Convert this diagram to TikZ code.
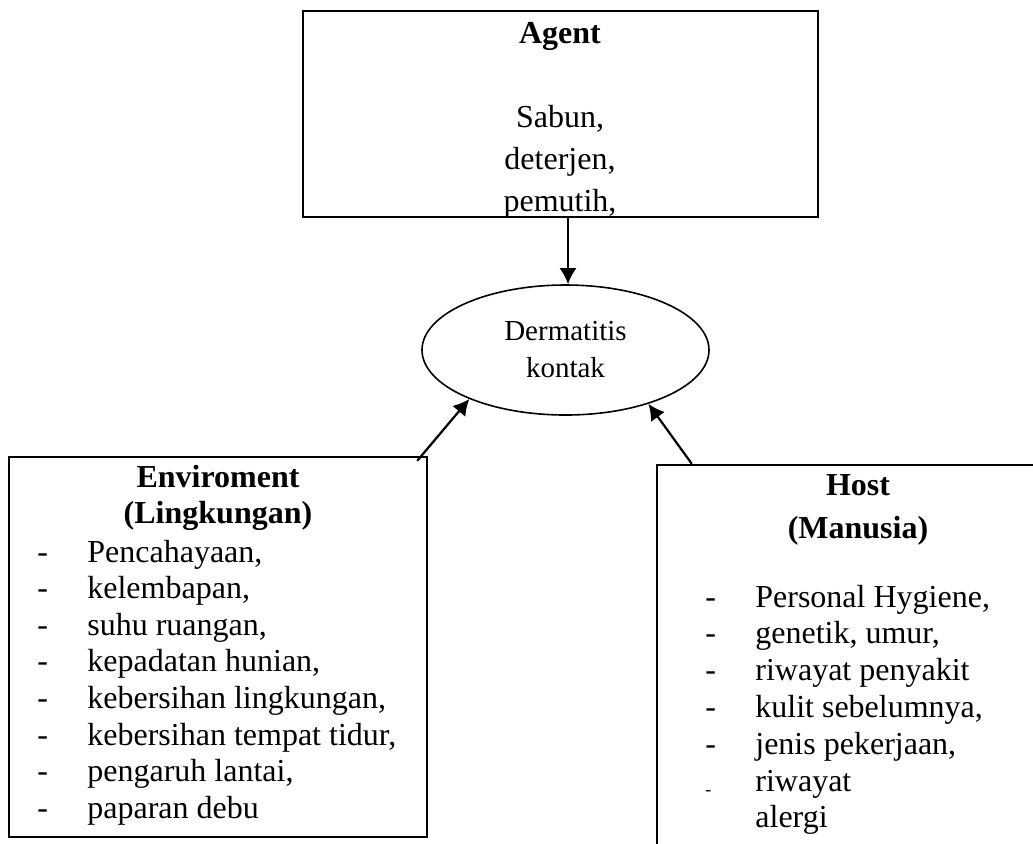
\documentclass[tikz,border=0pt]{standalone}
\usepackage{fontspec}
\setmainfont{Liberation Serif}
\usetikzlibrary{arrows.meta,shapes.geometric}

\begin{document}
\begin{tikzpicture}[x=0.5pt, y=-0.5pt, >={Latex[length=8pt,width=8.5pt]},
  box/.style={draw, line width=1.2pt, inner sep=0pt},
  txt/.style={inner sep=0pt, font=\fontsize{16}{18.3}\selectfont},
  link/.style={->, line width=1.1pt}]

\useasboundingbox (0,0) rectangle (1033,843);
\clip (0,0) rectangle (1033,843);

% atas: agent
\node[box, minimum width=257.5pt, minimum height=103pt] (agent) at (560.5,114) {};
\node[txt, font=\fontsize{16}{21}\selectfont, anchor=base] (agenttxt) at (560,43)
  {\begin{tabular}[t]{@{}c@{}}\textbf{Agent}\\ \\ Sabun,\\ deterjen,\\ pemutih,\end{tabular}};

% tengah: penyakit
\node[ellipse, draw, line width=0.8pt, minimum width=143.5pt, minimum height=65pt,
      inner sep=0pt, align=center, font=\fontsize{14.5}{18.5}\selectfont] (dk) at (565.5,350)
  {Dermatitis\\kontak};

% kiri bawah: lingkungan
\node[box, minimum width=209pt, minimum height=190pt] (env) at (218,647) {};
\node[txt, anchor=base] (envhead) at (218,487)
  {\begin{tabular}[t]{@{}c@{}}\textbf{Enviroment}\\ \textbf{(Lingkungan)}\end{tabular}};
\node[txt, anchor=base west] (envlist) at (37,562)
  {\begin{tabular}[t]{@{}p{25pt}@{}l@{}}
  - & Pencahayaan,\\
  - & kelembapan,\\
  - & suhu ruangan,\\
  - & kepadatan hunian,\\
  - & kebersihan lingkungan,\\
  - & kebersihan tempat tidur,\\
  - & pengaruh lantai,\\
  - & paparan debu
  \end{tabular}};

% kanan bawah: host
\node[box, minimum width=211.5pt, minimum height=207.5pt] (host) at (868.5,672.5) {};
\node[txt, font=\fontsize{16}{21.5}\selectfont, anchor=base] (hosthead) at (858,495)
  {\begin{tabular}[t]{@{}c@{}}\textbf{Host}\\ \textbf{(Manusia)}\end{tabular}};
\node[txt, font=\fontsize{16}{18.4}\selectfont, anchor=base west] (hostlist) at (705,607)
  {\begin{tabular}[t]{@{}p{25pt}@{}l@{}}
  - & Personal Hygiene,\\
  - & genetik, umur,\\
  - & riwayat penyakit\\
  - & kulit sebelumnya,\\
  - & jenis pekerjaan,\\
  \raisebox{-2pt}{\fontsize{9}{9}\selectfont -} & riwayat\\
    & alergi
  \end{tabular}};

\draw[link] ([xshift=3.75pt]agent.south) -- ([xshift=3.75pt]agent.south |- dk.north);
\draw[link] ([xshift=-5.5pt,yshift=-2.5pt]env.north east) -- (dk.-153);
\draw[link] ([xshift=18pt]host.north west) -- (dk.-33);
\end{tikzpicture}
\end{document}
